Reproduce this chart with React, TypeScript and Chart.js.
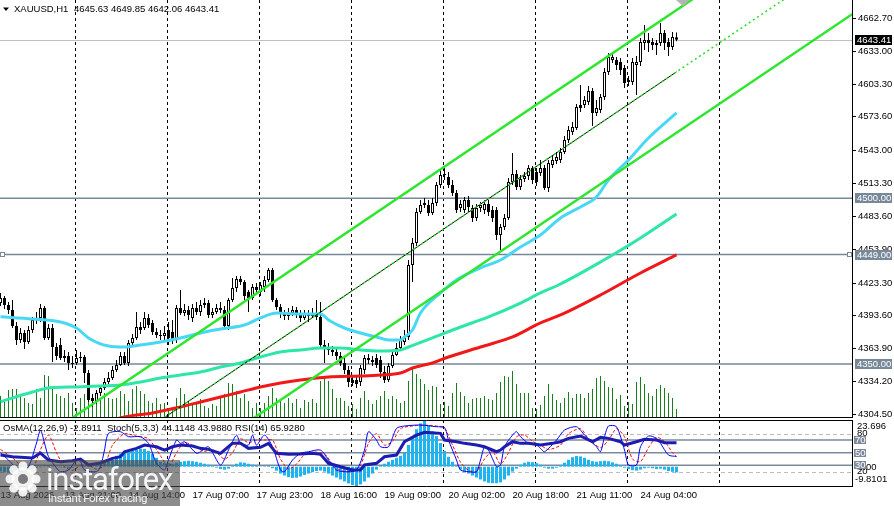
import React, { useEffect, useRef } from 'react';
import { Chart, registerables } from 'chart.js';

Chart.register(...registerables);

const FONT_FAMILY = '"Liberation Sans", Arial, sans-serif';
const FONT_SIZE = 9.5;
const FONT = `${FONT_SIZE}px ${FONT_FAMILY}`;

const symbolLabel = 'XAUUSD,H1';

// ---- H1 candles (index 0 = leftmost visible bar) ----
const opens = [
  4405.2, 4409.8, 4403.4, 4398.9, 4384.4, 4371.8, 4378.1, 4370.0, 4380.8, 4389.9,
  4391.7, 4400.7, 4373.6, 4382.6, 4365.4, 4367.2, 4355.5, 4357.3, 4351.0, 4351.0,
  4355.5, 4356.4, 4341.9, 4319.3, 4316.6, 4323.8, 4328.3, 4333.8, 4337.4, 4344.6,
  4349.2, 4357.3, 4351.0, 4369.1, 4373.6, 4383.5, 4382.6, 4391.7, 4387.1, 4379.0,
  4376.3, 4375.4, 4380.8, 4379.0, 4371.8, 4400.7, 4396.2, 4398.9, 4391.7, 4400.7,
  4397.1, 4403.4, 4405.2, 4394.4, 4397.1, 4400.7, 4398.9, 4384.4, 4408.0, 4418.8,
  4426.9, 4424.2, 4415.2, 4409.8, 4419.7, 4415.2, 4419.7, 4426.0, 4435.1, 4408.0,
  4401.6, 4396.2, 4393.5, 4396.2, 4398.9, 4395.3, 4391.7, 4395.3, 4393.5, 4396.2,
  4392.6, 4367.2, 4365.4, 4362.7, 4360.9, 4357.3, 4351.0, 4344.6, 4335.6, 4335.6,
  4333.8, 4344.6, 4355.5, 4353.7, 4355.5, 4353.7, 4342.8, 4335.6, 4348.2, 4358.2,
  4364.5, 4370.0, 4374.5, 4439.6, 4459.5, 4487.5, 4493.9, 4493.9, 4486.6, 4495.7,
  4512.0, 4521.0, 4519.2, 4512.0, 4504.7, 4491.2, 4489.3, 4498.4, 4491.2, 4482.1,
  4491.2, 4489.3, 4494.8, 4489.3, 4489.3, 4466.7, 4474.0, 4482.1, 4514.7, 4521.9,
  4510.2, 4517.4, 4520.1, 4527.3, 4523.7, 4522.8, 4527.3, 4509.2, 4530.1, 4533.7,
  4534.6, 4541.8, 4552.7, 4559.9, 4563.5, 4584.3, 4584.3, 4587.0, 4597.0, 4577.1,
  4579.8, 4591.6, 4614.2, 4625.0, 4625.0, 4623.2, 4617.8, 4606.9, 4605.1, 4620.5,
  4623.2, 4640.4, 4643.1, 4641.3, 4638.6, 4640.4, 4649.4, 4641.3, 4636.8, 4645.63,
];
const highs = [
  4414.3, 4411.6, 4406.1, 4408.0, 4388.0, 4382.6, 4380.8, 4384.4, 4392.6, 4397.1,
  4404.3, 4402.5, 4386.2, 4386.2, 4369.1, 4373.6, 4362.7, 4360.9, 4357.3, 4362.7,
  4360.9, 4358.2, 4344.6, 4322.9, 4326.5, 4331.1, 4337.4, 4342.8, 4348.2, 4353.7,
  4360.9, 4360.9, 4371.8, 4377.2, 4397.1, 4388.0, 4397.1, 4395.3, 4389.9, 4382.6,
  4380.8, 4384.4, 4388.0, 4389.9, 4403.4, 4417.0, 4404.3, 4402.5, 4404.3, 4406.1,
  4408.0, 4409.8, 4408.0, 4400.7, 4404.3, 4406.1, 4402.5, 4409.8, 4427.8, 4429.7,
  4429.7, 4426.0, 4417.0, 4422.4, 4423.3, 4424.2, 4429.7, 4436.9, 4436.9, 4409.8,
  4404.3, 4398.9, 4400.7, 4402.5, 4401.6, 4398.9, 4398.9, 4398.9, 4400.7, 4408.0,
  4406.1, 4371.8, 4369.1, 4366.3, 4364.5, 4360.9, 4355.5, 4348.2, 4339.2, 4340.1,
  4349.2, 4358.2, 4359.1, 4357.3, 4359.1, 4357.3, 4348.2, 4351.0, 4362.7, 4369.1,
  4375.4, 4380.8, 4444.1, 4464.0, 4491.2, 4498.4, 4500.2, 4498.4, 4500.2, 4514.7,
  4525.5, 4527.3, 4523.7, 4516.5, 4507.4, 4498.4, 4501.1, 4502.0, 4493.9, 4494.8,
  4496.6, 4498.4, 4498.4, 4493.0, 4492.1, 4476.7, 4485.7, 4518.3, 4540.9, 4525.5,
  4521.0, 4523.7, 4530.1, 4529.2, 4527.3, 4534.6, 4530.1, 4534.6, 4539.1, 4541.8,
  4545.4, 4556.3, 4565.3, 4568.9, 4585.2, 4602.4, 4592.5, 4601.5, 4599.7, 4588.9,
  4594.3, 4617.8, 4631.4, 4631.4, 4627.7, 4626.8, 4620.5, 4610.6, 4626.8, 4628.6,
  4644.9, 4656.7, 4649.4, 4644.9, 4643.1, 4658.5, 4652.2, 4644.9, 4650.4, 4649.85,
];
const lows = [
  4402.5, 4399.8, 4395.3, 4382.6, 4367.2, 4369.1, 4363.6, 4368.2, 4378.1, 4386.2,
  4388.0, 4371.8, 4371.8, 4351.9, 4353.7, 4353.7, 4351.9, 4344.6, 4346.4, 4349.2,
  4351.9, 4332.9, 4315.7, 4311.2, 4313.9, 4321.1, 4326.5, 4332.0, 4335.6, 4342.8,
  4348.2, 4349.2, 4348.2, 4367.2, 4371.8, 4377.2, 4380.8, 4382.6, 4376.3, 4373.6,
  4371.8, 4371.8, 4367.2, 4368.2, 4369.1, 4394.4, 4393.5, 4389.9, 4388.0, 4394.4,
  4393.5, 4400.7, 4391.7, 4391.7, 4395.3, 4396.2, 4382.6, 4380.8, 4406.1, 4415.2,
  4421.5, 4408.0, 4397.1, 4408.0, 4414.3, 4411.6, 4415.2, 4424.2, 4406.1, 4398.9,
  4391.7, 4389.9, 4389.9, 4393.5, 4391.7, 4388.0, 4389.9, 4388.0, 4391.7, 4389.9,
  4364.5, 4351.0, 4358.2, 4357.3, 4353.7, 4348.2, 4341.0, 4329.3, 4330.2, 4328.4,
  4330.2, 4341.0, 4350.1, 4348.2, 4346.4, 4337.4, 4332.9, 4333.8, 4346.4, 4357.3,
  4362.7, 4367.2, 4371.8, 4424.2, 4456.8, 4485.7, 4491.2, 4483.9, 4484.8, 4493.0,
  4509.3, 4516.5, 4509.3, 4502.0, 4486.6, 4487.5, 4486.6, 4487.5, 4478.5, 4479.4,
  4487.5, 4485.7, 4483.9, 4478.5, 4462.2, 4453.2, 4471.3, 4480.3, 4512.0, 4507.4,
  4507.4, 4514.7, 4516.5, 4512.9, 4511.1, 4520.1, 4507.4, 4505.6, 4527.3, 4531.0,
  4531.9, 4540.0, 4550.0, 4557.2, 4561.7, 4578.0, 4581.6, 4584.3, 4565.3, 4574.4,
  4577.1, 4588.9, 4611.5, 4622.3, 4616.0, 4611.5, 4599.7, 4601.5, 4602.4, 4593.4,
  4619.6, 4634.1, 4632.3, 4634.1, 4629.5, 4637.7, 4634.1, 4628.6, 4634.1, 4642.06,
];
const closes = [
  4409.8, 4403.4, 4398.9, 4384.4, 4371.8, 4378.1, 4370.0, 4380.8, 4389.9, 4391.7,
  4400.7, 4373.6, 4382.6, 4365.4, 4357.3, 4355.5, 4357.3, 4351.0, 4350.1, 4355.5,
  4356.4, 4341.9, 4317.5, 4316.6, 4323.8, 4328.3, 4333.8, 4337.4, 4344.6, 4349.2,
  4357.3, 4351.0, 4369.1, 4373.6, 4383.5, 4380.8, 4391.7, 4385.3, 4379.0, 4376.3,
  4375.4, 4378.1, 4373.6, 4371.8, 4400.7, 4396.2, 4398.9, 4394.4, 4400.7, 4397.1,
  4403.4, 4405.2, 4394.4, 4397.1, 4400.7, 4398.9, 4384.4, 4408.0, 4418.8, 4426.9,
  4424.2, 4411.6, 4409.8, 4419.7, 4417.0, 4421.5, 4426.0, 4435.1, 4408.0, 4401.6,
  4396.2, 4393.5, 4396.2, 4398.9, 4395.3, 4391.7, 4395.3, 4393.5, 4396.2, 4392.6,
  4367.2, 4365.4, 4362.7, 4360.9, 4357.3, 4351.0, 4344.6, 4333.8, 4332.9, 4332.0,
  4346.4, 4355.5, 4353.7, 4351.9, 4349.2, 4342.8, 4335.6, 4348.2, 4358.2, 4364.5,
  4371.8, 4374.5, 4439.6, 4459.5, 4487.5, 4493.9, 4495.7, 4486.6, 4495.7, 4512.0,
  4521.0, 4521.9, 4512.0, 4504.7, 4489.3, 4494.8, 4498.4, 4492.1, 4482.1, 4491.2,
  4493.9, 4494.8, 4487.5, 4482.1, 4466.7, 4474.0, 4482.1, 4514.7, 4521.9, 4510.2,
  4517.4, 4520.1, 4527.3, 4516.5, 4514.7, 4527.3, 4509.2, 4531.9, 4534.6, 4537.3,
  4541.8, 4552.7, 4561.7, 4564.4, 4582.5, 4581.6, 4588.9, 4597.0, 4577.1, 4581.6,
  4591.6, 4614.2, 4627.7, 4627.7, 4620.5, 4616.0, 4604.2, 4605.1, 4623.2, 4623.2,
  4641.3, 4643.1, 4640.4, 4638.6, 4640.4, 4649.4, 4640.4, 4636.8, 4645.8, 4643.41,
];
const volumes = [
  4400, 3800, 5600, 5800, 5800, 4400, 4000, 3000, 2800, 5800,
  4000, 8600, 8400, 6000, 4800, 4400, 4000, 5000, 3000, 2000,
  4000, 4800, 5800, 3800, 3400, 3800, 5000, 4000, 3800, 4000,
  5400, 4800, 3400, 5800, 6400, 5400, 4800, 3400, 3000, 4000,
  2800, 3000, 1400, 2000, 4000, 6000, 4800, 3400, 3000, 2800,
  3800, 2400, 2000, 2800, 2400, 4000, 4800, 7000, 6800, 5400,
  4000, 4800, 3400, 2000, 3000, 2000, 3000, 4400, 6000, 4000,
  3800, 3000, 4000, 3000, 3800, 2000, 3600, 3200, 3800, 3000,
  7400, 8000, 7400, 5800, 4000, 4000, 3400, 2400, 2800, 1800,
  4000, 5400, 3600, 2800, 3600, 4400, 5400, 3800, 4400, 3800,
  3000, 3400, 7400, 10200, 8800, 7800, 6800, 5600, 6400, 6200,
  2800, 3200, 2400, 5000, 7000, 5200, 4400, 3000, 3800, 4000,
  4000, 4400, 3800, 3600, 5000, 7200, 8400, 8200, 9400, 6800,
  5000, 5000, 5000, 2000, 1800, 2600, 4400, 6800, 4800, 3600,
  3000, 4000, 5200, 4000, 4800, 4800, 4000, 5000, 5800, 8000,
  8400, 7400, 6200, 6000, 3800, 4600, 2400, 3200, 2800, 7200,
  8200, 6800, 5000, 4400, 5800, 6600, 6000, 5000, 4000, 1800,
];

// ---- moving averages (sampled at bar indices) ----
const fastMaBars = [0, 8, 15, 19, 22, 27, 31, 35, 40, 45, 50, 55, 61, 65, 69, 75, 80, 82, 86, 90, 94, 97, 100, 101, 103, 105, 110, 114, 120, 125, 130, 135, 140, 145, 149, 152, 157, 162, 169];
const fastMaVals = [4392.8, 4390.8, 4388.0, 4382.6, 4373.6, 4366.3, 4365.4, 4367.2, 4370.0, 4373.6, 4378.1, 4381.7, 4385.3, 4391.7, 4396.2, 4395.3, 4395.3, 4389.9, 4382.6, 4378.1, 4374.5, 4371.8, 4371.8, 4374.5, 4380.8, 4396.2, 4414.3, 4426.0, 4436.9, 4444.1, 4455.9, 4466.7, 4482.1, 4492.1, 4501.1, 4516.5, 4534.6, 4554.5, 4577.1];
const midMaBars = [0, 8, 12, 19, 25, 30, 35, 40, 45, 50, 55, 60, 65, 70, 75, 80, 85, 90, 95, 100, 102, 108, 115, 122, 130, 135, 140, 150, 160, 169];
const midMaVals = [4316.0, 4324.7, 4328.3, 4329.3, 4330.2, 4331.1, 4333.8, 4337.4, 4340.1, 4342.8, 4347.3, 4351.0, 4356.4, 4360.9, 4362.7, 4364.5, 4364.5, 4362.7, 4361.8, 4362.7, 4365.4, 4373.6, 4383.5, 4392.6, 4405.2, 4414.3, 4422.4, 4442.3, 4464.0, 4485.7];
const slowMaBars = [28, 31, 38, 45, 50, 55, 60, 65, 70, 75, 82, 90, 95, 100, 103, 108, 112, 120, 128, 135, 140, 150, 160, 169];
const slowMaVals = [4299.4, 4302.1, 4305.7, 4311.2, 4315.7, 4320.2, 4324.7, 4329.3, 4332.9, 4335.6, 4338.3, 4339.2, 4340.1, 4341.9, 4346.4, 4351.0, 4356.4, 4365.4, 4374.5, 4387.2, 4394.4, 4412.5, 4432.4, 4448.7];

// ---- channel objects ----
const upperBars = [0, 200];
const upperVals = [4257.5, 4745.9];
const lowerBars = [40, 213];
const lowerVals = [4244.2, 4666.7];
const midBars = [41, 169];
const midVals = [4301.7, 4614.3];
const midRayBars = [41, 200];
const midRayVals = [4301.7, 4690.0];

// ---- horizontal levels / axis ----
const levelPrices = [4500.0, 4449.0, 4350.0];
const priceTicks = [4662.7, 4633.0, 4603.3, 4573.6, 4543.0, 4513.3, 4483.6, 4453.9, 4423.3, 4393.6, 4363.9, 4334.2, 4304.5];
const priceMin = 4301.2;
const priceMax = 4679.3;
const separatorBars = [19, 42, 65, 88, 111, 134, 157, 180];
const timeTickBars = [0, 16, 32, 48, 64, 80, 96, 112, 128, 144, 160];
const timeLabels = ['13 Aug 2026', '13 Aug 21:00', '14 Aug 14:00', '17 Aug 07:00', '17 Aug 23:00', '18 Aug 16:00', '19 Aug 09:00', '20 Aug 02:00', '20 Aug 18:00', '21 Aug 11:00', '24 Aug 04:00'];

// ---- oscillators ----
const osma = [
  -2.5, -2.8, -3.0, -3.0, -2.8, -2.5, -2.0, -1.5, -1.0, -0.6,
  -0.3, 0.2, 0.3, 0.2, -0.1, -0.3, -0.5, -0.6, -0.5, -0.3,
  0.2, 0.6, 0.9, 1.2, 1.4, 1.8, 2.2, 2.8, 3.5, 5.5,
  6.5, 7.0, 7.2, 8.0, 8.5, 9.2, 9.0, 8.0, 6.5, 4.5,
  2.5, 2.0, 1.8, 1.5, 2.0, 2.5, 2.8, 3.0, 2.8, 2.5,
  2.0, 1.5, 1.0, 0.5, -0.5, -1.2, -1.5, -1.0, 0.5, 1.5,
  2.2, 2.0, 1.5, 1.0, 0.5, 0.2, 0.3, 0.5, -0.8, -2.0,
  -3.5, -4.5, -5.3, -5.7, -5.6, -5.0, -4.2, -3.5, -2.8, -2.2,
  -2.0, -2.5, -3.5, -4.5, -5.5, -6.5, -7.5, -8.5, -9.3, -9.8,
  -9.0, -7.5, -5.5, -3.5, -1.5, 0.5, 1.5, 2.5, 3.5, 4.5,
  5.5, 7.0, 11.0, 15.0, 19.0, 22.0, 23.5, 21.0, 18.0, 15.5,
  12.0, 8.0, 5.0, 2.5, 0.3, -1.5, -2.5, -3.5, -4.5, -5.5,
  -6.5, -7.5, -8.2, -8.4, -8.4, -8.0, -6.5, -4.5, -2.5, -1.0,
  1.0, 2.0, 2.5, 2.3, 1.8, 1.0, -0.5, -1.0, -1.0, -0.5,
  0.8, 2.0, 3.5, 4.8, 5.4, 5.2, 4.5, 3.5, 2.8, 2.5,
  2.8, 3.0, 2.8, 2.2, 1.5, 0.8, -0.5, -1.2, -1.8, -2.0,
  -1.5, -0.8, -0.5, -0.8, -1.2, -1.0, -1.5, -2.2, -2.6, -2.8911,
];
const osmaMin = -9.8101;
const osmaMax = 23.696;
const stochBars = [0, 2, 5, 7, 9, 10, 11, 12, 14, 15, 17, 19, 20, 21, 24, 25, 26, 27, 30, 32, 35, 37, 39, 41, 42, 44, 45, 46, 49, 50, 52, 55, 57, 59, 60, 62, 63, 64, 66, 68, 70, 71, 73, 75, 77, 80, 82, 84, 86, 89, 91, 92, 94, 95, 97, 99, 101, 105, 109, 111, 112, 114, 115, 117, 119, 120, 121, 122, 124, 125, 126, 128, 129, 130, 132, 134, 135, 136, 139, 141, 144, 146, 149, 150, 151, 152, 154, 156, 157, 159, 160, 162, 164, 165, 167, 169];
const stochVals = [49.5, 38.4, 19.9, 27.8, 65.3, 85.8, 65.3, 43.6, 25.8, 19.9, 22.6, 38.4, 35.7, 22.6, 19.9, 27.8, 54.2, 80.6, 83.2, 75.3, 75.3, 64.8, 33.2, 22.6, 38.4, 70.0, 64.8, 67.4, 49.0, 51.5, 59.4, 30.5, 54.2, 77.9, 64.8, 62.1, 77.9, 62.1, 77.9, 59.4, 22.6, 19.9, 38.4, 49.0, 51.5, 54.2, 38.4, 22.6, 19.9, 22.6, 54.2, 83.2, 70.0, 59.4, 59.4, 88.5, 92.2, 93.8, 91.1, 90.0, 70.0, 38.4, 22.6, 19.9, 19.9, 38.4, 59.4, 54.2, 27.8, 30.5, 59.4, 77.9, 83.2, 75.3, 64.8, 62.1, 56.9, 51.5, 70.0, 85.8, 91.1, 77.9, 59.4, 51.5, 75.3, 92.2, 91.1, 54.2, 30.5, 30.5, 59.4, 76.4, 72.7, 64.8, 46.3, 44.1148];
const signalBars = [0, 3, 6, 8, 10, 12, 14, 16, 18, 20, 22, 24, 26, 28, 31, 34, 37, 40, 42, 44, 46, 49, 51, 53, 56, 58, 60, 62, 64, 66, 68, 70, 72, 74, 76, 78, 81, 83, 85, 88, 90, 92, 94, 96, 98, 100, 104, 108, 111, 113, 115, 117, 119, 121, 123, 125, 127, 129, 131, 133, 135, 137, 140, 142, 145, 147, 150, 152, 154, 156, 158, 160, 162, 164, 166, 168, 169];
const signalVals = [55, 42, 25, 25, 55, 78, 50, 28, 22, 30, 30, 24, 30, 62, 80, 76, 72, 45, 28, 50, 66, 58, 52, 55, 40, 50, 72, 66, 70, 70, 70, 40, 24, 32, 47, 51, 48, 32, 22, 20, 30, 65, 80, 62, 68, 88, 93, 93, 88, 62, 35, 22, 20, 40, 52, 32, 50, 75, 78, 68, 62, 55, 62, 80, 88, 72, 58, 70, 88, 75, 40, 36, 58, 74, 68, 50, 43.988];
const rsiBars = [0, 3, 8, 10, 12, 15, 18, 20, 22, 25, 28, 30, 31, 34, 36, 39, 41, 43, 45, 48, 50, 52, 55, 58, 60, 62, 65, 67, 69, 72, 75, 78, 80, 82, 85, 88, 90, 91, 94, 96, 99, 101, 104, 106, 110, 111, 114, 116, 119, 121, 124, 125, 126, 128, 130, 132, 135, 138, 140, 142, 145, 148, 150, 152, 155, 156, 159, 161, 164, 166, 169];
const rsiVals = [46.3, 43.6, 41.6, 49.5, 38.4, 35.7, 37.3, 40.0, 30.5, 33.7, 41.1, 43.6, 51.5, 56.9, 62.1, 59.4, 54.2, 59.4, 62.1, 60.6, 56.9, 55.3, 49.0, 64.8, 64.8, 56.9, 58.5, 64.8, 49.0, 47.4, 47.9, 49.0, 47.4, 33.2, 27.8, 22.6, 22.6, 30.5, 33.2, 43.6, 46.3, 67.4, 77.9, 82.2, 80.6, 70.0, 67.4, 64.8, 62.1, 59.4, 51.5, 54.2, 59.4, 67.4, 64.8, 64.8, 62.1, 64.8, 67.4, 72.7, 76.4, 67.4, 74.3, 72.7, 67.4, 62.1, 67.4, 71.1, 70.0, 65.8, 65.928];
const oscDashedLevels = [80, 20];
const oscSolidLevels = [70, 50, 30];

const LAST = closes.length - 1;
const xMin = -0.125;
const xMax = 212.875;

const pts = (bars: number[], vals: number[]) => bars.map((b, i) => ({ x: b, y: vals[i] }));

const mainDecor = {
  id: 'mainDecor',
  beforeDatasetsDraw(chart: any) {
    const { ctx, chartArea: a } = chart;
    const xs = chart.scales.x;
    const ys = chart.scales.y;
    ctx.save();
    ctx.beginPath();
    ctx.rect(a.left, a.top, a.right - a.left, a.bottom - a.top);
    ctx.clip();
    ctx.lineWidth = 1;
    ctx.strokeStyle = '#000';
    ctx.setLineDash([3, 3]);
    separatorBars.forEach((b) => {
      const px = xs.getPixelForValue(b) - 1;
      ctx.beginPath();
      ctx.moveTo(px, a.top);
      ctx.lineTo(px, a.bottom);
      ctx.stroke();
    });
    ctx.setLineDash([]);
    const cp = Math.round(ys.getPixelForValue(closes[LAST])) + 0.5;
    ctx.strokeStyle = '#c0c0c0';
    ctx.beginPath();
    ctx.moveTo(a.left, cp);
    ctx.lineTo(a.right, cp);
    ctx.stroke();
    ctx.strokeStyle = '#778899';
    ctx.lineWidth = 1.5;
    levelPrices.forEach((p) => {
      const py = ys.getPixelForValue(p);
      ctx.beginPath();
      ctx.moveTo(a.left, py);
      ctx.lineTo(a.right, py);
      ctx.stroke();
    });
    ctx.restore();
  },
  afterDraw(chart: any) {
    const { ctx, chartArea: a } = chart;
    const xs = chart.scales.x;
    const ys = chart.scales.y;
    ctx.save();
    ctx.strokeStyle = '#000';
    ctx.lineWidth = 1;
    ctx.beginPath();
    ctx.moveTo(0, a.bottom - 0.5);
    ctx.lineTo(a.right + 0.5, a.bottom - 0.5);
    ctx.stroke();
    // anchors of the 4449 line
    const ay = Math.round(ys.getPixelForValue(levelPrices[1]));
    ctx.fillStyle = '#fff';
    ctx.strokeStyle = '#778899';
    [0.5, a.right - 4.5].forEach((sx) => {
      ctx.fillRect(sx, ay - 2.5, 4, 4);
      ctx.strokeRect(sx, ay - 2.5, 4, 4);
    });
    ctx.font = FONT;
    ctx.textBaseline = 'middle';
    ctx.textAlign = 'left';
    const box = (v: number, bg: string) => {
      const py = Math.round(ys.getPixelForValue(v));
      ctx.fillStyle = bg;
      ctx.fillRect(a.right + 3, py - 5, 37, 10);
      ctx.fillStyle = '#fff';
      ctx.fillText(v.toFixed(2), a.right + 5, py + 0.5);
    };
    levelPrices.forEach((p) => box(p, '#778899'));
    box(closes[LAST], '#000');
    // header
    ctx.fillStyle = '#000';
    ctx.beginPath();
    ctx.moveTo(3, 7.5);
    ctx.lineTo(9, 7.5);
    ctx.lineTo(6, 11);
    ctx.closePath();
    ctx.fill();
    ctx.fillText(symbolLabel, 14, 9.5);
    const ohlc = `${opens[LAST].toFixed(2)} ${highs[LAST].toFixed(2)} ${lows[LAST].toFixed(2)} ${closes[LAST].toFixed(2)}`;
    ctx.fillText(ohlc, 74, 9.5);
    // chart shift marker
    const sx = xs.getPixelForValue(LAST) + 6.5;
    ctx.fillStyle = '#b4b4b4';
    ctx.beginPath();
    ctx.moveTo(sx - 7, 0);
    ctx.lineTo(sx + 7, 0);
    ctx.lineTo(sx, 6);
    ctx.closePath();
    ctx.fill();
    ctx.restore();
  },
};

const indDecor = {
  id: 'indDecor',
  beforeDatasetsDraw(chart: any) {
    const { ctx, chartArea: a } = chart;
    const xs = chart.scales.x;
    const yo = chart.scales.yOsc;
    ctx.save();
    ctx.beginPath();
    ctx.rect(a.left, a.top, a.right - a.left, a.bottom - a.top);
    ctx.clip();
    ctx.lineWidth = 1;
    ctx.strokeStyle = '#bcbcbc';
    ctx.setLineDash([4, 3]);
    oscDashedLevels.forEach((l) => {
      const py = Math.round(yo.getPixelForValue(l)) + 0.5;
      ctx.beginPath();
      ctx.moveTo(a.left, py);
      ctx.lineTo(a.right, py);
      ctx.stroke();
    });
    ctx.strokeStyle = '#000';
    ctx.setLineDash([3, 3]);
    separatorBars.forEach((b) => {
      const px = xs.getPixelForValue(b) - 1;
      ctx.beginPath();
      ctx.moveTo(px, a.top);
      ctx.lineTo(px, a.bottom);
      ctx.stroke();
    });
    ctx.setLineDash([]);
    ctx.strokeStyle = '#7d8a9b';
    ctx.lineWidth = 1.5;
    oscSolidLevels.forEach((l) => {
      const py = yo.getPixelForValue(l);
      ctx.beginPath();
      ctx.moveTo(a.left, py);
      ctx.lineTo(a.right, py);
      ctx.stroke();
    });
    ctx.restore();
  },
  afterDraw(chart: any) {
    const { ctx, chartArea: a } = chart;
    const yo = chart.scales.yOsc;
    const ym = chart.scales.yOsma;
    ctx.save();
    ctx.strokeStyle = '#000';
    ctx.lineWidth = 1;
    ctx.beginPath();
    ctx.moveTo(0, a.top + 0.5);
    ctx.lineTo(a.right + 0.5, a.top + 0.5);
    ctx.stroke();
    ctx.font = FONT;
    ctx.textBaseline = 'middle';
    ctx.textAlign = 'left';
    ctx.fillStyle = '#000';
    ctx.fillText(`OsMA(12,26,9) ${osma[LAST].toFixed(4)}`, 3, a.top + 8);
    ctx.fillText(`Stoch(5,3,3) ${stochVals[stochVals.length - 1].toFixed(4)} ${signalVals[signalVals.length - 1].toFixed(4)}`, 107, a.top + 8);
    ctx.fillText(`RSI(14) ${rsiVals[rsiVals.length - 1].toFixed(4)}`, 235, a.top + 8);
    // right side labels
    ctx.fillText(osmaMax.toFixed(3), a.right + 5, a.top + 6);
    ctx.fillText(osmaMin.toFixed(4), a.right + 3, a.bottom - 6.5);
    ctx.fillText((0).toFixed(2), a.right + 6, Math.round(ym.getPixelForValue(0)));
    oscSolidLevels.forEach((l) => {
      const py = Math.round(yo.getPixelForValue(l));
      ctx.fillStyle = '#7d8a9b';
      ctx.fillRect(a.right + 2, py - 4, 12, 8);
      ctx.fillStyle = '#fff';
      ctx.fillText(String(l), a.right + 3, py + 0.5);
    });
    ctx.restore();
  },
};

export default function App() {
  const mainRef = useRef<HTMLCanvasElement>(null);
  const indRef = useRef<HTMLCanvasElement>(null);

  useEffect(() => {
    const tickFont = { family: FONT_FAMILY, size: FONT_SIZE };
    const lineDs = (bars: number[], vals: number[], color: string, width: number, order: number, extra: any = {}) => ({
      type: 'line',
      data: pts(bars, vals),
      borderColor: color,
      borderWidth: width,
      pointRadius: 0,
      fill: false,
      order,
      yAxisID: 'y',
      ...extra,
    });

    const main = new Chart(mainRef.current as HTMLCanvasElement, {
      type: 'bar',
      data: {
        datasets: [
          {
            type: 'bar',
            data: volumes.map((v, i) => ({ x: i, y: v })),
            yAxisID: 'yVol',
            backgroundColor: '#17801a',
            barThickness: 1,
            grouped: false,
            inflateAmount: 0,
            order: 20,
          },
          {
            type: 'bar',
            data: highs.map((h, i) => ({ x: i, y: [lows[i], h] })),
            yAxisID: 'y',
            backgroundColor: '#000',
            barThickness: 1,
            grouped: false,
            inflateAmount: 0,
            order: 19,
          },
          {
            type: 'bar',
            data: opens.map((o, i) => ({ x: i, y: [o, closes[i]] })),
            yAxisID: 'y',
            backgroundColor: (c: any) => (closes[c.dataIndex] >= opens[c.dataIndex] ? '#ffffff' : '#000000'),
            borderColor: '#000',
            borderWidth: 1,
            borderSkipped: false,
            barThickness: 3,
            grouped: false,
            inflateAmount: 0,
            order: 18,
          },
          lineDs(slowMaBars, slowMaVals, '#f01818', 3, 8, { cubicInterpolationMode: 'monotone' }),
          lineDs(midMaBars, midMaVals, '#2ee6a8', 3, 7, { cubicInterpolationMode: 'monotone' }),
          lineDs(fastMaBars, fastMaVals, '#48d8f6', 3, 6, { cubicInterpolationMode: 'monotone' }),
          lineDs(midBars, midVals, '#000000', 1, 5),
          lineDs(midRayBars, midRayVals, '#22e022', 1.5, 4, { borderDash: [2, 3] }),
          lineDs(upperBars, upperVals, '#2ee62e', 2.5, 3),
          lineDs(lowerBars, lowerVals, '#2ee62e', 2.5, 3),
        ] as any,
      },
      options: {
        responsive: false,
        animation: false,
        events: [],
        layout: { padding: 0, autoPadding: false },
        plugins: { legend: { display: false }, tooltip: { enabled: false } },
        scales: {
          x: { type: 'linear', min: xMin, max: xMax, display: false, offset: false },
          y: {
            type: 'linear',
            position: 'right',
            min: priceMin,
            max: priceMax,
            afterBuildTicks: (s: any) => {
              s.ticks = priceTicks.map((v) => ({ value: v }));
            },
            afterFit: (s: any) => {
              s.width = 42;
              s.paddingTop = 0;
              s.paddingBottom = 0;
            },
            ticks: {
              autoSkip: false,
              padding: 2,
              color: '#000',
              font: tickFont,
              callback: (v: any) => Number(v).toFixed(2),
            },
            grid: { drawOnChartArea: false, drawTicks: true, tickLength: 4, color: '#000' },
            border: { display: true, color: '#000', width: 1 },
          },
          yVol: { type: 'linear', display: false, min: 0, max: 83600 },
        } as any,
      },
      plugins: [mainDecor],
    } as any);

    const ind = new Chart(indRef.current as HTMLCanvasElement, {
      type: 'bar',
      data: {
        datasets: [
          {
            type: 'bar',
            data: osma.map((v, i) => ({ x: i, y: v })),
            yAxisID: 'yOsma',
            backgroundColor: '#1eb4f0',
            barThickness: 3,
            grouped: false,
            inflateAmount: 0,
            order: 10,
          },
          {
            type: 'line',
            data: pts(signalBars, signalVals),
            yAxisID: 'yOsc',
            borderColor: '#ff0000',
            borderWidth: 1,
            borderDash: [3, 2],
            pointRadius: 0,
            tension: 0.25,
            order: 4,
          },
          {
            type: 'line',
            data: pts(stochBars, stochVals),
            yAxisID: 'yOsc',
            borderColor: '#0000ff',
            borderWidth: 1,
            pointRadius: 0,
            tension: 0.25,
            order: 3,
          },
          {
            type: 'line',
            data: pts(rsiBars, rsiVals),
            yAxisID: 'yOsc',
            borderColor: '#1c1cb0',
            borderWidth: 3,
            pointRadius: 0,
            order: 2,
          },
        ] as any,
      },
      options: {
        responsive: false,
        animation: false,
        events: [],
        layout: { padding: { top: 1, left: 0, right: 0, bottom: 0 }, autoPadding: false },
        plugins: { legend: { display: false }, tooltip: { enabled: false } },
        scales: {
          x: {
            type: 'linear',
            min: xMin,
            max: xMax,
            position: 'bottom',
            offset: false,
            afterBuildTicks: (s: any) => {
              s.ticks = timeTickBars.map((v) => ({ value: v }));
            },
            afterFit: (s: any) => {
              s.height = 20;
              s.paddingLeft = 0;
              s.paddingRight = 0;
            },
            ticks: {
              autoSkip: false,
              maxRotation: 0,
              minRotation: 0,
              align: 'start',
              padding: 4,
              color: '#000',
              font: tickFont,
              callback: (_v: any, i: number) => timeLabels[i],
            },
            grid: { display: false, drawTicks: false },
            border: { display: true, color: '#000', width: 1 },
          },
          yOsc: {
            type: 'linear',
            position: 'right',
            min: -2.69,
            max: 101.74,
            afterBuildTicks: (s: any) => {
              s.ticks = oscDashedLevels.map((v) => ({ value: v }));
            },
            afterFit: (s: any) => {
              s.width = 42;
              s.paddingTop = 0;
              s.paddingBottom = 0;
            },
            ticks: { autoSkip: false, padding: 5, color: '#000', font: tickFont, callback: (v: any) => String(v) },
            grid: { drawOnChartArea: false, drawTicks: false },
            border: { display: true, color: '#000', width: 1 },
          },
          yOsma: { type: 'linear', display: false, min: osmaMin, max: osmaMax },
        } as any,
      },
      plugins: [indDecor],
    } as any);

    return () => {
      main.destroy();
      ind.destroy();
    };
  }, []);

  const petals = [0, 1, 2, 3, 4, 5, 6, 7];
  return (
    <div style={{ position: 'fixed', left: 0, top: 0, width: 894, height: 506, background: '#fff', overflow: 'hidden' }}>
      <canvas ref={mainRef} width={894} height={418} style={{ position: 'absolute', left: 0, top: 0, width: 894, height: 418 }} />
      <canvas ref={indRef} width={894} height={87} style={{ position: 'absolute', left: 0, top: 419, width: 894, height: 87 }} />
      <div style={{ position: 'absolute', left: 0, top: 460, width: 180, height: 46, background: 'rgba(70,70,70,0.62)' }}>
        <svg width={40} height={40} viewBox="-20 -20 40 40" style={{ position: 'absolute', left: 3, top: -1 }}>
          <g fill="rgba(255,255,255,0.88)">
            {petals.map((k) => (
              <circle key={k} cx={13 * Math.cos((k * Math.PI) / 4)} cy={13 * Math.sin((k * Math.PI) / 4)} r={4.5} />
            ))}
            <circle r={11.5} />
          </g>
          <circle r={5} fill="#7a7a7a" />
        </svg>
        <div style={{ position: 'absolute', left: 46, top: 4, fontFamily: 'Roboto, sans-serif', fontSize: 31, lineHeight: '31px', letterSpacing: -1.2, color: 'rgba(255,255,255,0.92)', whiteSpace: 'nowrap' }}>instaforex</div>
        <div style={{ position: 'absolute', left: 48, top: 31.5, fontFamily: 'Roboto, sans-serif', fontSize: 11.5, lineHeight: '12px', letterSpacing: -0.4, color: 'rgba(255,255,255,0.9)', whiteSpace: 'nowrap' }}>Instant Forex Tracing</div>
      </div>
    </div>
  );
}
